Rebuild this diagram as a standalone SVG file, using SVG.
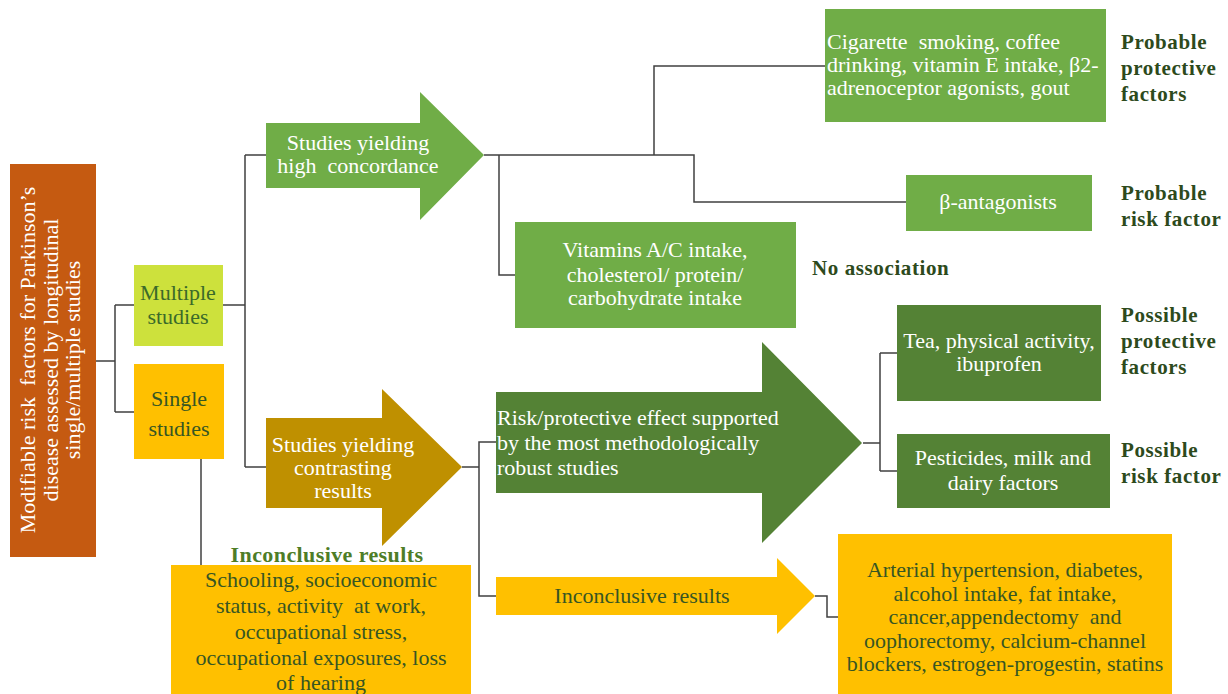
<svg xmlns="http://www.w3.org/2000/svg" width="1228" height="694" viewBox="0 0 1228 694" font-family="'Liberation Serif', 'DejaVu Serif', serif">
<style>
text{font-family:'Liberation Serif','DejaVu Serif',serif;font-size:22px;white-space:pre}
.w{fill:#ffffff}
.dg{fill:#375623}
.lb{fill:#2d4a1c;font-weight:bold;font-size:21px;letter-spacing:0.6px}
.mid{text-anchor:middle}
.conn{fill:none;stroke:#404040;stroke-width:1.5}
</style>
<rect width="1228" height="694" fill="#ffffff"/>
<g id="connectors" class="conn">
<path d="M96,361 H115 M115,305 V412 M115,305 H134 M115,412 H134"/>
<path d="M222,305 H245 M245,155 V467 M245,155 H266 M245,467 H266"/>
<path d="M484,155 H694 V202 H906 M499,155 V275 H515 M654,155 V66 H826"/>
<path d="M462,467 H479 V442 H496 M479,467 V596 H496"/>
<path d="M863,443 H880 M880,353 V471 M880,353 H897 M880,471 H897"/>
<path d="M815,596 H827 V617 H838"/>
<path d="M201,459 V565"/>
</g>
<g id="root">
<rect x="10" y="164" width="86" height="393" fill="#c55a11"/>
<g transform="translate(0,360) rotate(-90)">
<text class="w mid" x="0" y="35" font-size="20" xml:space="preserve">Modifiable risk  factors for Parkinson’s</text>
<text class="w mid" x="0" y="58" font-size="20">disease assessed by longitudinal</text>
<text class="w mid" x="0" y="80" font-size="20">single/multiple studies</text>
</g>
</g>
<g id="multiple">
<rect x="134" y="265" width="89" height="81" fill="#cde13c"/>
<text class="mid" x="178" y="300" fill="#3b6a2a">Multiple</text>
<text class="mid" x="178" y="324" fill="#3b6a2a">studies</text>
</g>
<g id="single">
<rect x="134" y="364" width="90" height="95" fill="#ffc000"/>
<text class="dg mid" x="179" y="406" font-size="24">Single</text>
<text class="dg mid" x="179" y="436" font-size="24">studies</text>
</g>
<g id="high-concordance">
<polygon points="266,123 420,123 420,92 484,155 420,220 420,188 266,188" fill="#70ad47"/>
<text class="w mid" x="358" y="150">Studies yielding</text>
<text class="w mid" x="358" y="173" xml:space="preserve">high  concordance</text>
</g>
<g id="contrasting">
<polygon points="266,418 382,418 382,389 462,467 382,546 382,508 266,508" fill="#bf9000"/>
<text class="w mid" x="343" y="452">Studies yielding</text>
<text class="w mid" x="343" y="475">contrasting</text>
<text class="w mid" x="343" y="498">results</text>
</g>
<g id="protective-probable">
<rect x="825" y="9" width="281" height="113" fill="#70ad47"/>
<text class="w" x="827" y="49" xml:space="preserve">Cigarette  smoking, coffee</text>
<text class="w" x="827" y="72">drinking, vitamin E intake, β2-</text>
<text class="w" x="827" y="95">adrenoceptor agonists, gout</text>
<text class="lb" x="1121" y="49">Probable</text>
<text class="lb" x="1121" y="75">protective</text>
<text class="lb" x="1121" y="101">factors</text>
</g>
<g id="beta-antagonists">
<rect x="906" y="175" width="186" height="56" fill="#70ad47"/>
<text class="w mid" x="998" y="209">β-antagonists</text>
<text class="lb" x="1121" y="200">Probable</text>
<text class="lb" x="1121" y="226">risk factor</text>
</g>
<g id="no-association">
<rect x="515" y="222" width="281" height="106" fill="#70ad47"/>
<text class="w mid" x="655" y="257">Vitamins A/C intake,</text>
<text class="w mid" x="655" y="282">cholesterol/ protein/</text>
<text class="w mid" x="655" y="305">carbohydrate intake</text>
<text class="lb" x="812" y="275">No association</text>
</g>
<g id="robust">
<polygon points="496,392 762,392 762,342 862,443 762,543 762,493 496,493" fill="#548235"/>
<text class="w" x="497" y="425">Risk/protective effect supported</text>
<text class="w" x="497" y="450">by the most methodologically</text>
<text class="w" x="497" y="475">robust studies</text>
</g>
<g id="possible-protective">
<rect x="897" y="305" width="204" height="96" fill="#548235"/>
<text class="w mid" x="999" y="348">Tea, physical activity,</text>
<text class="w mid" x="999" y="371">ibuprofen</text>
<text class="lb" x="1121" y="322">Possible</text>
<text class="lb" x="1121" y="348">protective</text>
<text class="lb" x="1121" y="374">factors</text>
</g>
<g id="possible-risk">
<rect x="897" y="434" width="213" height="74" fill="#548235"/>
<text class="w mid" x="1003" y="465">Pesticides, milk and</text>
<text class="w mid" x="1003" y="490">dairy factors</text>
<text class="lb" x="1121" y="457">Possible</text>
<text class="lb" x="1121" y="483">risk factor</text>
</g>
<g id="inconclusive-arrow">
<polygon points="496,577 777,577 777,558 815,596 777,634 777,615 496,615" fill="#ffc000"/>
<text class="dg mid" x="642" y="603">Inconclusive results</text>
</g>
<g id="inconclusive-multiple">
<rect x="838" y="534" width="334" height="160" fill="#ffc000"/>
<text class="dg mid" x="1005" y="577">Arterial hypertension, diabetes,</text>
<text class="dg mid" x="1005" y="601">alcohol intake, fat intake,</text>
<text class="dg mid" x="1005" y="624" xml:space="preserve">cancer,appendectomy  and</text>
<text class="dg mid" x="1005" y="648">oophorectomy, calcium-channel</text>
<text class="dg mid" x="1005" y="671">blockers, estrogen-progestin, statins</text>
</g>
<g id="inconclusive-single">
<text class="mid" x="327" y="562" fill="#4e7d27" font-weight="bold" font-size="21" letter-spacing="0.4">Inconclusive results</text>
<rect x="171" y="565" width="300" height="129" fill="#ffc000"/>
<text class="dg mid" x="321" y="587">Schooling, socioeconomic</text>
<text class="dg mid" x="321" y="613" xml:space="preserve">status, activity  at work,</text>
<text class="dg mid" x="321" y="639">occupational stress,</text>
<text class="dg mid" x="321" y="665">occupational exposures, loss</text>
<text class="dg mid" x="321" y="690">of hearing</text>
</g>
</svg>
